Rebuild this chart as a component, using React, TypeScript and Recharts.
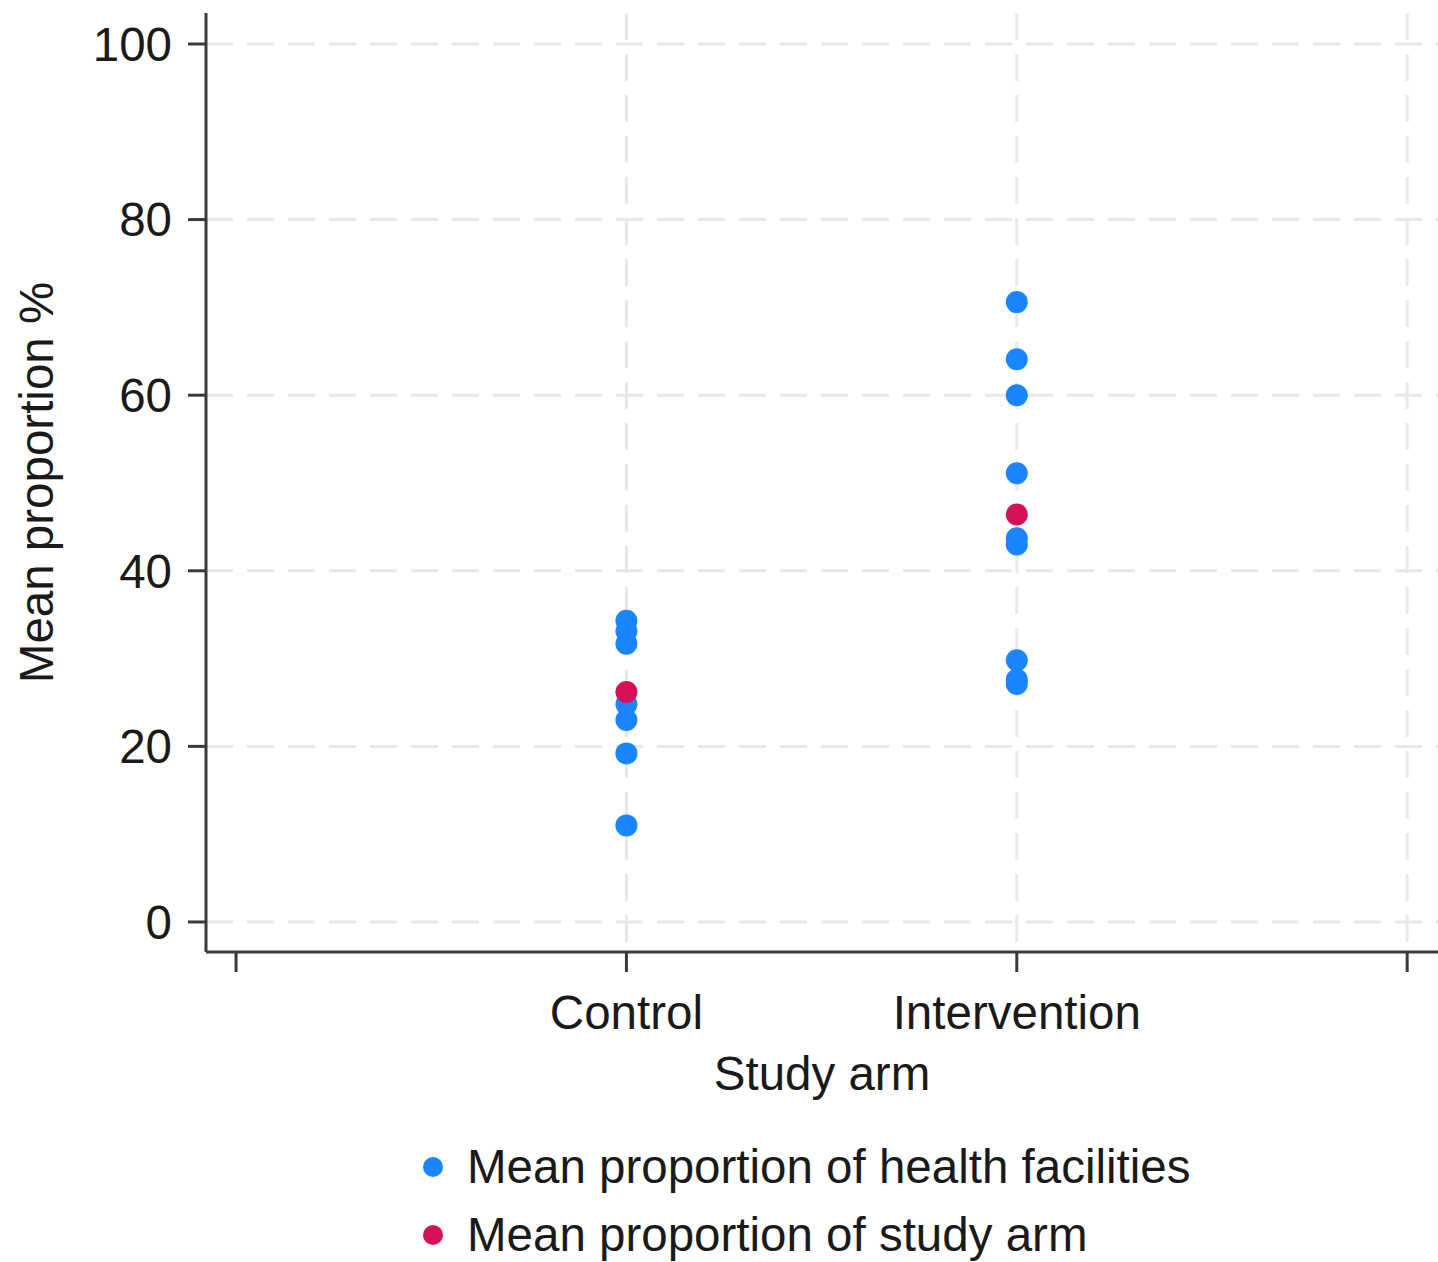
import { ScatterChart, Scatter, XAxis, YAxis, CartesianGrid, Legend, Label } from 'recharts';

// eixos
const armTicks = [0, 1, 2, 3];
const armLabels: Record<number, string> = { 1: 'Control', 2: 'Intervention' };
const yTicks = [0, 20, 40, 60, 80, 100];
const gridX = [1, 2, 3];

// valores (%)
const controlFacilities = [34.3, 33.1, 31.7, 24.8, 23.0, 19.2, 11.0];
const interventionFacilities = [70.6, 64.1, 60.0, 51.1, 43.7, 43.0, 29.8, 27.6, 27.1];
const armMeans = [26.2, 46.4];

const FONT = '"Liberation Sans", Arial, sans-serif';
const BLUE = '#1a85ff';
const RED = '#d41159';
const AXIS = '#3a3a3a';
const TEXT = '#1a1a1a';

const facilityData = [
  ...controlFacilities.map((value) => ({ arm: 1, value })),
  ...interventionFacilities.map((value) => ({ arm: 2, value })),
];
const meanData = armMeans.map((value, i) => ({ arm: i + 1, value }));

const dot = (props: any) => <circle cx={props.cx} cy={props.cy} r={11} fill={props.fill} />;

function LegendBox({ payload }: any) {
  return (
    <div style={{ fontFamily: FONT, fontSize: 47.5, color: TEXT }}>
      {(payload ?? []).map((entry: any, i: number) => (
        <div
          key={entry.value}
          style={{
            display: 'flex',
            alignItems: 'center',
            height: 54,
            lineHeight: '54px',
            marginTop: i === 0 ? 0 : 14,
            whiteSpace: 'nowrap',
          }}
        >
          <svg width={22} height={22} style={{ marginRight: 23, flex: 'none' }}>
            <circle cx={11} cy={11} r={10} fill={entry.color ?? entry.payload?.fill} />
          </svg>
          <span>{entry.value}</span>
        </div>
      ))}
    </div>
  );
}

export default function App() {
  const tickStyle = { fill: TEXT, fontSize: 47.5, fontFamily: FONT };
  const lineStyle = { stroke: AXIS, strokeWidth: 3 };

  return (
    <div
      style={{
        position: 'fixed',
        left: 0,
        top: 0,
        width: 1438,
        height: 1262,
        overflow: 'hidden',
        background: '#fff',
      }}
    >
      <ScatterChart width={1438} height={1262} margin={{ top: 13, right: 0, left: 0, bottom: 160 }}>
        <CartesianGrid
          stroke="#e8e8e8"
          strokeWidth={3}
          strokeDasharray="27 14"
          horizontalValues={yTicks}
          verticalValues={gridX}
        />
        <XAxis
          dataKey="arm"
          type="number"
          domain={[-0.077, 3.079]}
          allowDataOverflow
          ticks={armTicks}
          interval={0}
          tickFormatter={(v: number) => armLabels[v] ?? ''}
          height={150}
          tickSize={20}
          tickMargin={23}
          tick={tickStyle}
          axisLine={lineStyle}
          tickLine={lineStyle}
        >
          <Label
            value="Study arm"
            position="insideBottom"
            offset={12}
            style={{ fill: TEXT, fontSize: 47.5, fontFamily: FONT }}
          />
        </XAxis>
        <YAxis
          dataKey="value"
          type="number"
          domain={[-3.42, 103.53]}
          allowDataOverflow
          ticks={yTicks}
          interval={0}
          width={206}
          tickSize={18}
          tickMargin={16}
          tick={tickStyle}
          axisLine={lineStyle}
          tickLine={lineStyle}
        >
          <Label
            value="Mean proportion %"
            position="insideLeft"
            angle={-90}
            offset={36}
            style={{ fill: TEXT, fontSize: 47.5, fontFamily: FONT, textAnchor: 'middle' }}
          />
        </YAxis>
        <Legend
          layout="vertical"
          align="center"
          verticalAlign="middle"
          content={<LegendBox />}
          wrapperStyle={{ top: 1140, left: 422, width: 900 }}
        />
        <Scatter
          name="Mean proportion of health facilities"
          data={facilityData}
          fill={BLUE}
          shape={dot}
          isAnimationActive={false}
        />
        <Scatter
          name="Mean proportion of study arm"
          data={meanData}
          fill={RED}
          shape={dot}
          isAnimationActive={false}
        />
      </ScatterChart>
    </div>
  );
}
